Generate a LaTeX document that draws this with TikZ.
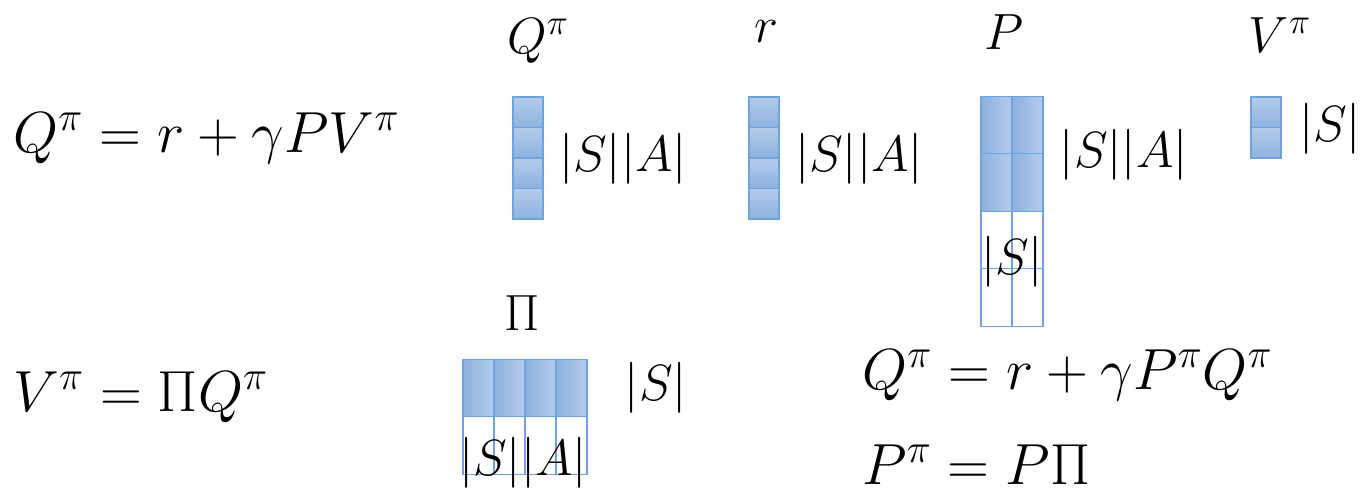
\RequirePackage{fix-cm}
\documentclass[tikz,border=0pt]{standalone}
\usepackage{amsmath}
\usepackage{amssymb}
\usetikzlibrary{positioning, calc}
\definecolor{cellline}{HTML}{6FA3DC}
\definecolor{celltop}{HTML}{B4CCEB}
\definecolor{cellbot}{HTML}{8DB1DF}
\tikzset{
    cell/.style={rectangle, draw=cellline, line width=0.9pt, top color=celltop, bottom color=cellbot, minimum width=0.6cm, minimum height=0.61cm, inner sep=0pt},
    wcell/.style={rectangle, draw=cellline, line width=0.7pt, minimum width=0.62cm, minimum height=1.15cm, inner sep=0pt},
    fcell/.style={wcell, left color=cellbot, right color=celltop},
    eq/.style={inner sep=0pt, anchor=base west, font=\fontsize{33}{40}\selectfont},
    lbl/.style={inner sep=0pt, font=\fontsize{29}{35}\selectfont}
}
\begin{document}
\begin{tikzpicture}[x=0.02cm, y=-0.02cm]
        \useasboundingbox (0,0) rectangle (1360,494);
        % equations
        \node[eq] (eqq) at (13,152) {$Q^\pi = r + \gamma P V^\pi$};
        \node[eq] (eqv) at (13,411) {$V^\pi = \Pi Q^\pi$};
        \node[eq] (eqqp) at (862,389) {$Q^\pi = r + \gamma P^\pi Q^\pi$};
        \node[eq] (eqpp) at (862,484) {$P^\pi = P \Pi$};
        % Q column
        \foreach \i in {0,...,3}
            \node[cell] (q\i) at (528,{112.25+30.5*\i}) {};
        \node[lbl, anchor=base] (qname) at (538,53) {$Q^\pi$};
        \node[lbl, anchor=west, xshift=0.3cm] (qsize) at (q1.south east) {$|S||A|$};
        % r column
        \foreach \i in {0,...,3}
            \node[cell] (r\i) at (764,{112.25+30.5*\i}) {};
        \node[lbl, anchor=base] (rname) at (766,42) {$r$};
        \node[lbl, anchor=west, xshift=0.3cm] (rsize) at (r1.south east) {$|S||A|$};
        % P block
        \foreach \j in {0,1} {
            \foreach \i in {0,1}
                \node[fcell] (p\i\j) at ({996.5+31*\j},{125+57.5*\i}) {};
            \foreach \i in {2,3}
                \node[wcell] (p\i\j) at ({996.5+31*\j},{125+57.5*\i}) {};
        }
        \node[lbl, anchor=base] (pname) at (1004,49) {$P$};
        \node[lbl, anchor=west, xshift=0.32cm] (psize) at (p01.south east) {$|S||A|$};
        \node[lbl] (pcol) at (1012,262) {$|S|$};
        % V column
        \foreach \i in {0,1}
            \node[cell] (v\i) at (1266,{112.25+30.5*\i}) {};
        \node[lbl, anchor=base] (vname) at (1280,52) {$V^\pi$};
        \node[lbl, anchor=west, xshift=0.34cm] (vsize) at (v0.south east) {$|S|$};
        % Pi block
        \foreach \j in {0,...,3} {
            \node[fcell] (pi0\j) at ({478.5+31*\j},388) {};
            \node[wcell] (pi1\j) at ({478.5+31*\j},445.5) {};
        }
        \node[lbl, anchor=base] (piname) at (522,330) {$\Pi$};
        \node[lbl, anchor=west, xshift=0.74cm] (pisize) at (pi03.east) {$|S|$};
        \node[lbl] (picol) at (523,463) {$|S||A|$};
    \end{tikzpicture}
\end{document}
